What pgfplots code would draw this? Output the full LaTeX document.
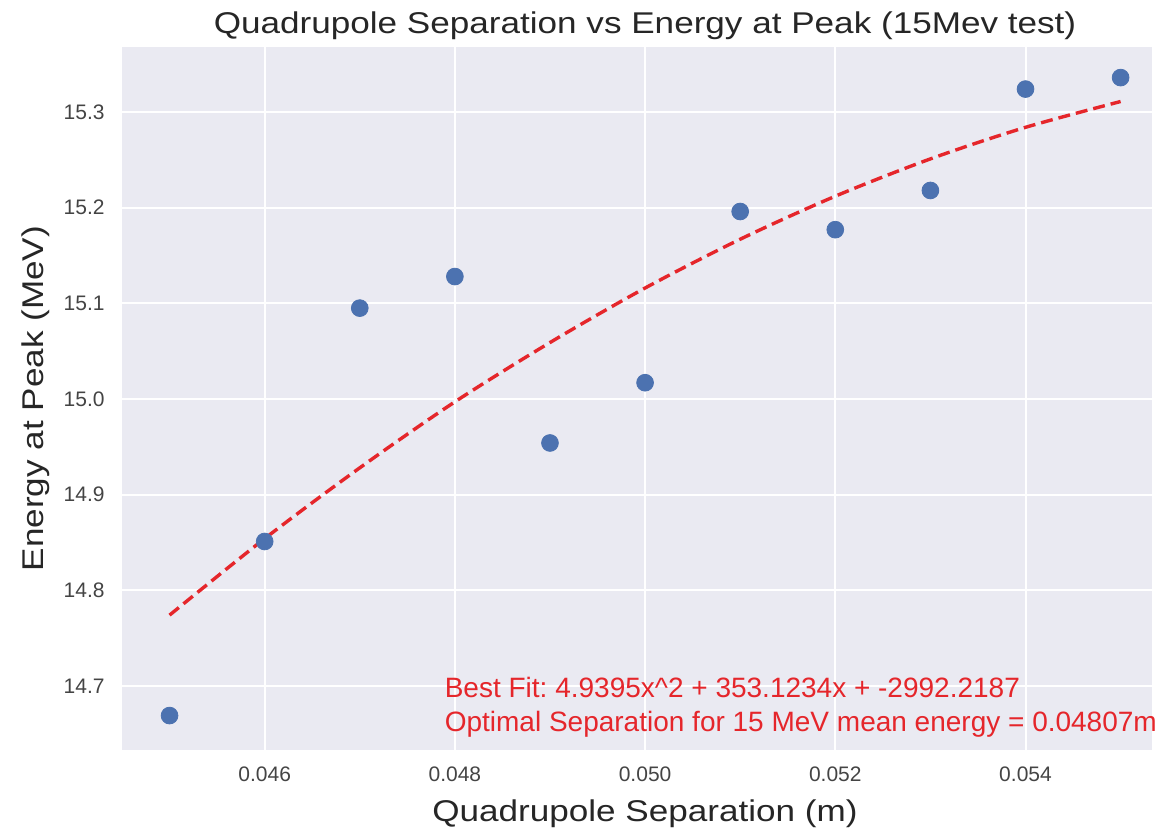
\documentclass[border=0pt]{standalone}
\usepackage{pgfplots}
\pgfplotsset{compat=1.18}
\usepackage{fontspec}
\setmainfont{Liberation Sans}
\newfontfamily\widefont[FakeStretch=1.17]{Liberation Sans}

\definecolor{bgc}{HTML}{EAEAF2}
\definecolor{pts}{HTML}{4C72B0}
\definecolor{fitred}{HTML}{E5262B}
\definecolor{txt}{HTML}{262626}
\definecolor{ticktxt}{HTML}{444444}

\begin{document}
\frenchspacing
\begin{tikzpicture}
\begin{axis}[
scale only axis,
width=515pt, height=351.5pt,
xmin=0.04450, xmax=0.05533,
ymin=14.633, ymax=15.368,
axis background/.style={fill=bgc},
axis line style={draw=none},
grid=major,
major grid style={white, line width=1pt},
tick style={draw=none},
xtick={0.046,0.048,0.050,0.052,0.054},
ytick={14.7,14.8,14.9,15.0,15.1,15.2,15.3},
scaled x ticks=false,
/pgf/number format/assume math mode=true,
ticklabel style={font=\fontsize{10.5}{12}\selectfont, text=ticktxt, inner sep=0pt},
xticklabel style={anchor=base, yshift=-16pt,
  /pgf/number format/.cd, fixed, fixed zerofill, precision=3},
yticklabel style={anchor=east, xshift=-8.5pt,
  /pgf/number format/.cd, fixed, fixed zerofill, precision=1},
every axis title shift=0pt,
title={Quadrupole Separation vs Energy at Peak (15Mev test)},
title style={font=\widefont\fontsize{15}{18}\selectfont, text=txt,
  at={(axis description cs:0.5078,1.0185)}, anchor=base, inner sep=0pt},
xlabel={Quadrupole Separation (m)},
ylabel={Energy at Peak (MeV)},
label style={font=\widefont\fontsize{15}{18}\selectfont, text=txt, inner sep=0pt},
xlabel style={at={(axis description cs:0.5078,-0.1024)}, anchor=base},
ylabel style={at={(axis description cs:-0.0758,0.5)}, anchor=base},
clip=false,
]
% fitted curve
\addplot [fitred, line width=1.7pt, dash pattern=on 6pt off 3pt, smooth]
table {%
0.045 14.774
0.046 14.854
0.047 14.928
0.048 14.997
0.049 15.059
0.050 15.116
0.051 15.167
0.052 15.212
0.053 15.251
0.054 15.284
0.055 15.311
};
% measured peaks
\addplot [only marks, mark=*, mark size=4.2pt, pts, mark options={draw=pts, fill=pts}]
table {%
0.045 14.669
0.046 14.851
0.047 15.095
0.048 15.128
0.049 14.954
0.050 15.017
0.051 15.196
0.052 15.177
0.053 15.218
0.054 15.324
0.055 15.336
};
\node [anchor=base west, inner sep=0pt, text=fitred, font=\fontsize{14}{17}\selectfont]
  at (axis cs:0.04789,14.688) {Best Fit: 4.9395x\^{}2 + 353.1234x + -2992.2187};
\node [anchor=base west, inner sep=0pt, text=fitred, font=\fontsize{14}{17}\selectfont]
  at (axis cs:0.04789,14.652) {Optimal Separation for 15 MeV mean energy = 0.04807m};
\end{axis}
\pgfresetboundingbox
\path [use as bounding box] ([xshift=-61pt, yshift=-40pt]current axis.south west)
  rectangle ([xshift=2.5pt, yshift=23.5pt]current axis.north east);
\end{tikzpicture}
\end{document}
